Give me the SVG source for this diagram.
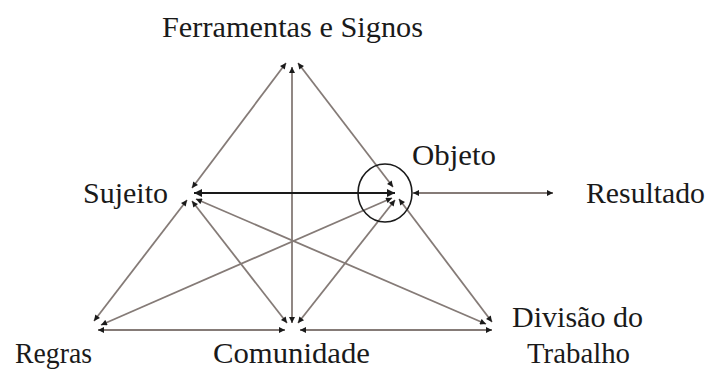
<svg xmlns="http://www.w3.org/2000/svg" width="711" height="369" viewBox="0 0 711 369">
<style>
.t{font-size:29px;fill:#1a1a1a}
.c{stroke:#857b77;stroke-width:1.8;fill:none;marker-start:url(#h);marker-end:url(#h)}
.k{stroke:#1a1a1a;stroke-width:2.2;fill:none;marker-start:url(#hk);marker-end:url(#hk)}
</style>
<defs>
<marker id="h" viewBox="0 0 10 10" refX="10" refY="5" markerWidth="8" markerHeight="6" markerUnits="userSpaceOnUse" orient="auto-start-reverse">
<path d="M0,0 L10,5 L0,10 Z" fill="#1a1a1a"/>
</marker>
<marker id="hk" viewBox="0 0 10 10" refX="10" refY="5" markerWidth="14" markerHeight="8" markerUnits="userSpaceOnUse" orient="auto-start-reverse">
<path d="M0,0 L10,5 L0,10 Z" fill="#1a1a1a"/>
</marker>
</defs>
<g id="connectors">
<line class="c" x1="286" y1="63" x2="192" y2="188"/>
<line class="c" x1="298" y1="63" x2="393" y2="187"/>
<line class="c" x1="292" y1="67" x2="292" y2="323"/>
<line class="k" x1="194" y1="193" x2="395" y2="193"/>
<line class="c" x1="187" y1="200" x2="94" y2="321"/>
<line class="c" x1="192" y1="201" x2="287" y2="323"/>
<line class="c" x1="196" y1="199" x2="486" y2="324"/>
<line class="c" x1="392" y1="198" x2="101" y2="325"/>
<line class="c" x1="395" y1="200" x2="298" y2="323"/>
<line class="c" x1="399" y1="199" x2="492" y2="322"/>
<line class="c" x1="98" y1="330" x2="285" y2="330"/>
<line class="c" x1="300" y1="330" x2="492" y2="330"/>
<line class="c" x1="413" y1="193" x2="553" y2="193"/>
</g>
<g font-family="Liberation Serif, DejaVu Serif, serif">
<g id="ferramentas"><text class="t" x="162" y="37" textLength="261" lengthAdjust="spacingAndGlyphs">Ferramentas e Signos</text></g>
<g id="objeto">
<ellipse cx="385" cy="193" rx="27" ry="29" fill="none" stroke="#1a1a1a" stroke-width="1.6"/>
<text class="t" x="412" y="165" textLength="84" lengthAdjust="spacingAndGlyphs">Objeto</text>
</g>
<g id="sujeito"><text class="t" x="83" y="203" textLength="85" lengthAdjust="spacingAndGlyphs">Sujeito</text></g>
<g id="resultado"><text class="t" x="586" y="203" textLength="119" lengthAdjust="spacingAndGlyphs">Resultado</text></g>
<g id="divisao"><text class="t" x="512" y="327" textLength="131" lengthAdjust="spacingAndGlyphs">Divisão do</text><text class="t" x="527" y="363" textLength="103" lengthAdjust="spacingAndGlyphs">Trabalho</text></g>
<g id="regras"><text class="t" x="15" y="363" textLength="77" lengthAdjust="spacingAndGlyphs">Regras</text></g>
<g id="comunidade"><text class="t" x="213" y="363" textLength="157" lengthAdjust="spacingAndGlyphs">Comunidade</text></g>
</g>
</svg>
